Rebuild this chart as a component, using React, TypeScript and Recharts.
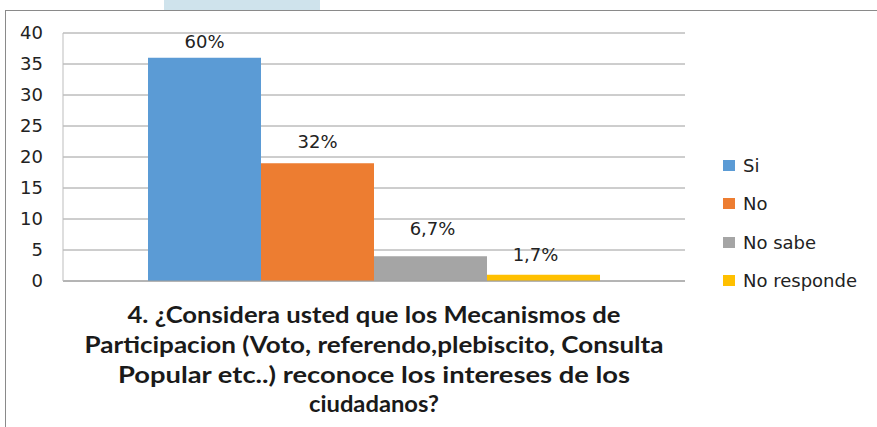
import React from "react";
import { BarChart, Bar, XAxis, YAxis, CartesianGrid, LabelList } from "recharts";

const categories = ["Si", "No", "No sabe", "No responde"];
const values = [36, 19, 4, 1];
const percentLabels = ["60%", "32%", "6,7%", "1,7%"];
const colors = ["#5B9BD5", "#ED7D31", "#A5A5A5", "#FFC000"];
const yTicks = [0, 5, 10, 15, 20, 25, 30, 35, 40];
const titleLines = [
  "4. ¿Considera usted que los Mecanismos de",
  "Participacion (Voto, referendo,plebiscito, Consulta",
  "Popular etc..) reconoce los intereses de los",
  "ciudadanos?",
];
const titleWidths = [493, 579, 512, 130];
const labelOffsets = [10, 15, 21, 14];
const labelDx = [0, 0, 2, -8];

const row: Record<string, any> = { name: "q4" };
categories.forEach((c, i) => {
  row[c] = values[i];
});
const data = [row];

const FONT = "'DejaVu Sans', sans-serif";

const TitleLabel = (props: any) => {
  const vb = props.viewBox || {};
  const cx = vb.x + vb.width / 2;
  const y0 = vb.y;
  return (
    <g>
      {titleLines.map((t, i) => (
        <text
          key={i}
          x={cx}
          y={y0 + 42 + i * 29.8}
          textAnchor="middle"
          fontFamily="Lato, 'Open Sans', sans-serif"
          fontWeight="bold"
          fontSize={23}
          fill="#1a1a1a"
          textLength={titleWidths[i]}
          lengthAdjust="spacingAndGlyphs"
        >
          {t}
        </text>
      ))}
    </g>
  );
};

const LegendBox = () => (
  <div
    style={{
      position: "absolute",
      left: 723,
      top: 146,
      width: 150,
      fontFamily: FONT,
      fontSize: 18,
      color: "#222",
    }}
  >
    {categories.map((c, i) => (
      <div key={c} style={{ display: "flex", alignItems: "center", height: 38.5 }}>
        <span
          style={{
            display: "inline-block",
            width: 12,
            height: 11,
            background: colors[i],
            marginRight: 8,
          }}
        />
        <span>{c}</span>
      </div>
    ))}
  </div>
);

const makeLabel = (idx: number) => (props: any) => {
  const { x, y, width } = props;
  return (
    <text
      x={x + width / 2 + labelDx[idx]}
      y={y - labelOffsets[idx]}
      textAnchor="middle"
      fontFamily={FONT}
      fontSize={18}
      fill="#222"
    >
      {percentLabels[idx]}
    </text>
  );
};

export default function App() {
  return (
    <div
      style={{
        position: "absolute",
        left: 0,
        top: 0,
        width: 877,
        height: 427,
        background: "#fff",
        overflow: "hidden",
      }}
    >
      <div
        style={{
          position: "absolute",
          left: 164,
          top: 0,
          width: 156,
          height: 10,
          background: "#CFE3EC",
        }}
      />
      <div
        style={{
          position: "absolute",
          left: 5,
          top: 10,
          width: 872,
          height: 417,
          borderLeft: "1px solid #8a8a8a",
          borderTop: "1px solid #8a8a8a",
        }}
      />
      <div style={{ position: "absolute", left: 0, top: 0 }}>
        <BarChart
          width={877}
          height={427}
          data={data}
          margin={{ top: 33, right: 192, bottom: 0, left: 3 }}
          barCategoryGap={85}
          barGap={0}
        >
          <CartesianGrid vertical={false} stroke="#9c9c9c" strokeWidth={1} />
          <XAxis
            dataKey="name"
            tick={false}
            tickLine={false}
            axisLine={{ stroke: "#9c9c9c" }}
            height={146}
            label={{ content: TitleLabel } as any}
          />
          <YAxis
            domain={[0, 40]}
            ticks={yTicks}
            width={60}
            tickLine={false}
            tickSize={0}
            tickMargin={20}
            axisLine={{ stroke: "#bdbdbd" }}
            tick={{ fontFamily: FONT, fontSize: 18, fill: "#222" }}
            interval={0}
          />
          {categories.map((c, i) => (
            <Bar key={c} dataKey={c} fill={colors[i]} isAnimationActive={false}>
              <LabelList dataKey={c} content={makeLabel(i)} />
            </Bar>
          ))}
        </BarChart>
      </div>
      <LegendBox />
    </div>
  );
}
